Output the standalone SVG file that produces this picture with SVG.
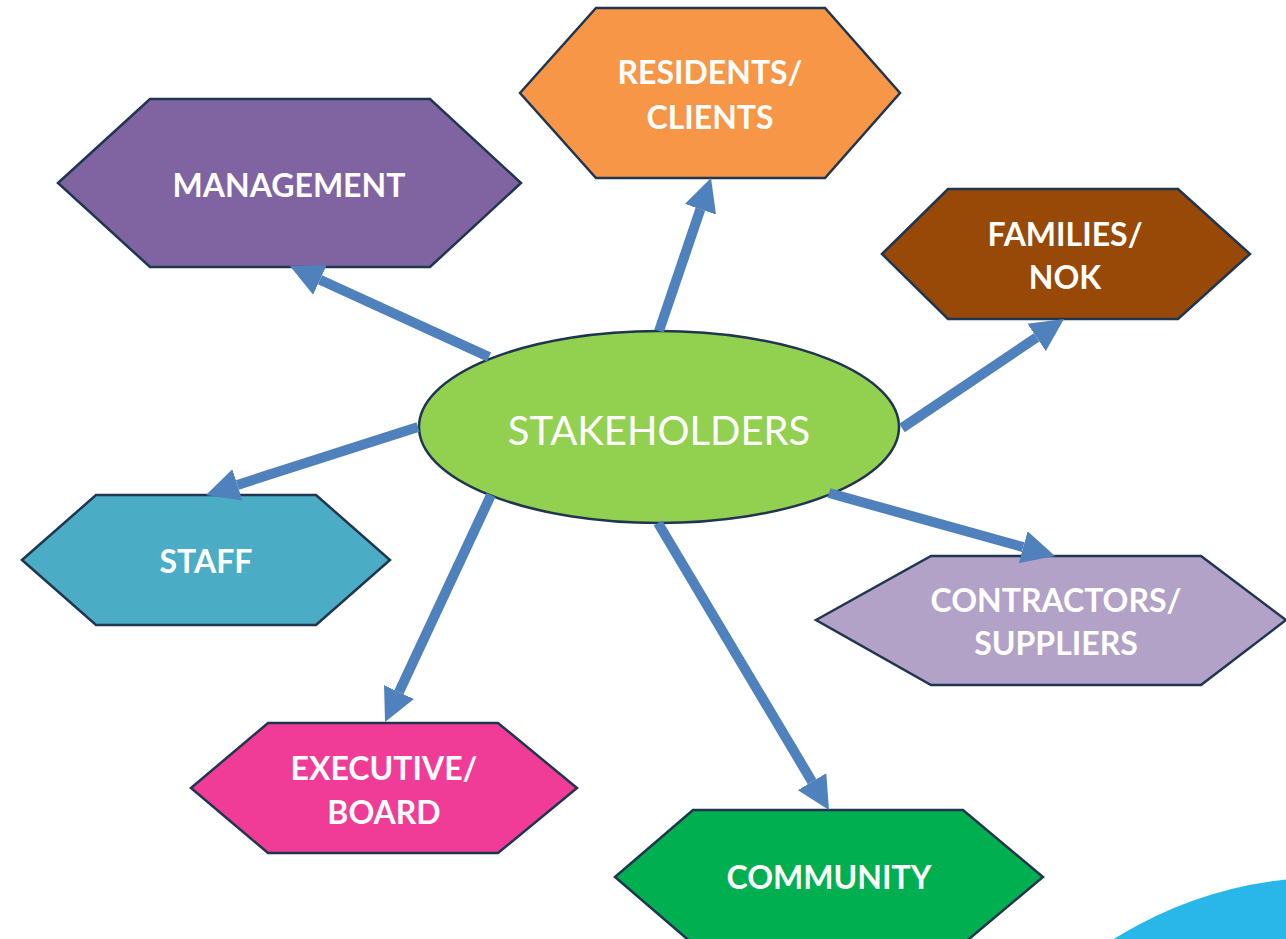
<svg xmlns="http://www.w3.org/2000/svg" width="1286" height="939" viewBox="0 0 1286 939">
  <style>
    .hex { stroke: #1F3550; stroke-width: 2.5; stroke-linejoin: miter; }
    .lbl { font-family: Lato, "Liberation Sans", sans-serif; font-weight: bold; font-size: 32px; fill: #FFFFFF; text-anchor: middle; dominant-baseline: central; }
    .center { font-family: Lato, "Liberation Sans", sans-serif; font-size: 40px; fill: #FFFFFF; text-anchor: middle; dominant-baseline: central; }
    .conn { stroke: #4F81BD; stroke-width: 10; fill: none; marker-end: url(#head); }
  </style>
  <defs>
    <marker id="head" viewBox="0 0 10 10" refX="0" refY="5" markerWidth="3.3" markerHeight="3.4" orient="auto" markerUnits="strokeWidth">
      <path d="M0,0 L10,5 L0,10 Z" fill="#4F81BD"/>
    </marker>
  </defs>
  <rect width="1286" height="939" fill="#FFFFFF"/>

  <!-- corner decoration -->
  <circle cx="1330" cy="1285" r="408" fill="#29B6E8"/>

  <g id="residents">
    <polygon class="hex" points="520,93 596,8 825,8 900,93 825,178 596,178" fill="#F79646"/>
    <text class="lbl" x="710" y="71">RESIDENTS/</text>
    <text class="lbl" x="710" y="116">CLIENTS</text>
  </g>
  <g id="management">
    <polygon class="hex" points="58,183 150,99 430,99 521,183 430,267 150,267" fill="#8064A2"/>
    <text class="lbl" x="289" y="184">MANAGEMENT</text>
  </g>
  <g id="families">
    <polygon class="hex" points="882,254 948,189 1178,189 1250,254 1178,319 948,319" fill="#984807"/>
    <text class="lbl" x="1065" y="233">FAMILIES/</text>
    <text class="lbl" x="1065" y="276">NOK</text>
  </g>
  <g id="staff">
    <polygon class="hex" points="22,560 96,495 316,495 390,560 316,625 96,625" fill="#4BACC6"/>
    <text class="lbl" x="206" y="560">STAFF</text>
  </g>
  <g id="contractors">
    <polygon class="hex" points="816,620 931,556 1201,556 1286,620 1201,685 931,685" fill="#B2A2C7"/>
    <text class="lbl" x="1056" y="599">CONTRACTORS/</text>
    <text class="lbl" x="1056" y="642">SUPPLIERS</text>
  </g>
  <g id="executive">
    <polygon class="hex" points="191,788 268,723 498,723 577,788 498,853 268,853" fill="#F03C96"/>
    <text class="lbl" x="384" y="767">EXECUTIVE/</text>
    <text class="lbl" x="384" y="811">BOARD</text>
  </g>
  <g id="community">
    <polygon class="hex" points="615,877 693,810 963,810 1043,877 963,944 693,944" fill="#00B050"/>
    <text class="lbl" x="829" y="876">COMMUNITY</text>
  </g>

  <g id="stakeholders">
    <ellipse cx="659" cy="427" rx="240" ry="96" fill="#92D050" stroke="#1F3550" stroke-width="2.5"/>
    <text class="center" x="659" y="430">STAKEHOLDERS</text>
  </g>

  <g id="connectors">
    <line class="conn" x1="489" y1="357" x2="320.0" y2="279.7"/>
    <line class="conn" x1="659" y1="331" x2="700.4" y2="209.2"/>
    <line class="conn" x1="902" y1="428" x2="1036.6" y2="337.4"/>
    <line class="conn" x1="829" y1="493" x2="1023.2" y2="547.1"/>
    <line class="conn" x1="418" y1="427" x2="237.4" y2="484.9"/>
    <line class="conn" x1="491" y1="495" x2="399.0" y2="692.1"/>
    <line class="conn" x1="658" y1="523" x2="812.1" y2="781.7"/>
  </g>
</svg>
